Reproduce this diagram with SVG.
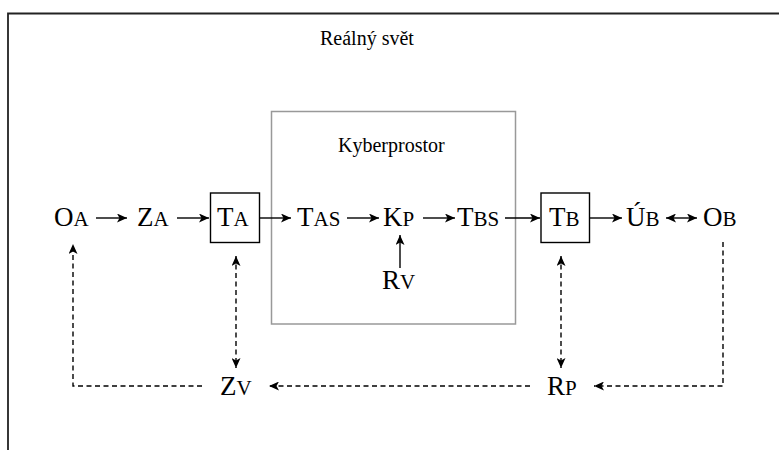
<svg xmlns="http://www.w3.org/2000/svg" width="779" height="450" viewBox="0 0 779 450" font-family="'Liberation Serif', 'Times New Roman', Times, 'DejaVu Serif', serif">
<style>
text{font-family:'Liberation Serif','Times New Roman',Times,'DejaVu Serif',serif;fill:#000}
.big{font-size:27px}
.sm{font-size:21px}
.lbl{font-size:20px}
.ln{stroke:#000;stroke-width:1.4;fill:none}
.ds{stroke:#000;stroke-width:1.4;fill:none;stroke-dasharray:5 3.5}
.box{fill:#fff;stroke:#000;stroke-width:1.4}
</style>
<defs>
<marker id="ah" viewBox="0 0 10 9" refX="10" refY="4.5" markerWidth="10" markerHeight="9" markerUnits="userSpaceOnUse" orient="auto-start-reverse">
<path d="M0,0 L10,4.5 L0,9 L2.5,4.5 z" fill="#000"/>
</marker>
</defs>
<g id="frame"><path d="M8,450 L8,13.5 L779,13.5" fill="none" stroke="#222" stroke-width="1.8"/>
<text class="lbl" x="320" y="45" font-family="Liberation Serif">Reálný svět</text></g>
<g id="kyberprostor"><rect x="271.5" y="111.5" width="244" height="212.5" fill="none" stroke="#999" stroke-width="1.5"/>
<text class="lbl" x="338" y="152" font-family="Liberation Serif">Kyberprostor</text></g>
<g id="connectors">
<line class="ln" x1="96" y1="218" x2="127" y2="218" marker-end="url(#ah)"/>
<line class="ln" x1="177" y1="218" x2="209" y2="218" marker-end="url(#ah)"/>
<line class="ln" x1="260" y1="218" x2="291" y2="218" marker-end="url(#ah)"/>
<line class="ln" x1="347" y1="218" x2="379" y2="218" marker-end="url(#ah)"/>
<line class="ln" x1="423" y1="218" x2="455" y2="218" marker-end="url(#ah)"/>
<line class="ln" x1="505" y1="218" x2="540" y2="218" marker-end="url(#ah)"/>
<line class="ln" x1="590" y1="218" x2="622" y2="218" marker-end="url(#ah)"/>
<line class="ln" x1="666" y1="218" x2="697" y2="218" marker-start="url(#ah)" marker-end="url(#ah)"/>
<line class="ln" x1="400" y1="268" x2="400" y2="235" marker-end="url(#ah)"/>
<line class="ds" x1="236" y1="256" x2="236" y2="368" marker-start="url(#ah)" marker-end="url(#ah)"/>
<line class="ds" x1="561" y1="256" x2="561" y2="368" marker-start="url(#ah)" marker-end="url(#ah)"/>
<polyline class="ds" points="723,242 723,386 594,386" marker-end="url(#ah)"/>
<line class="ds" x1="530" y1="386" x2="269" y2="386" marker-end="url(#ah)"/>
<polyline class="ds" points="202,386 73,386 73,244" marker-end="url(#ah)"/>
</g>
<g id="OA"><text class="big" x="54" y="226">O<tspan class="sm">A</tspan></text></g>
<g id="ZA"><text class="big" x="137" y="226">Z<tspan class="sm">A</tspan></text></g>
<g id="TA"><rect class="box" x="210.5" y="193" width="49" height="49.5"/><text class="big" x="217" y="226">T<tspan class="sm">A</tspan></text></g>
<g id="TAS"><text class="big" x="297" y="226">T<tspan class="sm">AS</tspan></text></g>
<g id="KP"><text class="big" x="383" y="226">K<tspan class="sm">P</tspan></text></g>
<g id="TBS"><text class="big" x="457" y="226">T<tspan class="sm">BS</tspan></text></g>
<g id="TB"><rect class="box" x="541" y="193" width="48.5" height="49.5"/><text class="big" x="549" y="226">T<tspan class="sm">B</tspan></text></g>
<g id="UB"><text class="big" x="626" y="226">Ú<tspan class="sm">B</tspan></text></g>
<g id="OB"><text class="big" x="703" y="226">O<tspan class="sm">B</tspan></text></g>
<g id="RV"><text class="big" x="382" y="289">R<tspan class="sm">V</tspan></text></g>
<g id="ZV"><text class="big" x="220" y="395">Z<tspan class="sm">V</tspan></text></g>
<g id="RP"><text class="big" x="547" y="395">R<tspan class="sm">P</tspan></text></g>
</svg>
